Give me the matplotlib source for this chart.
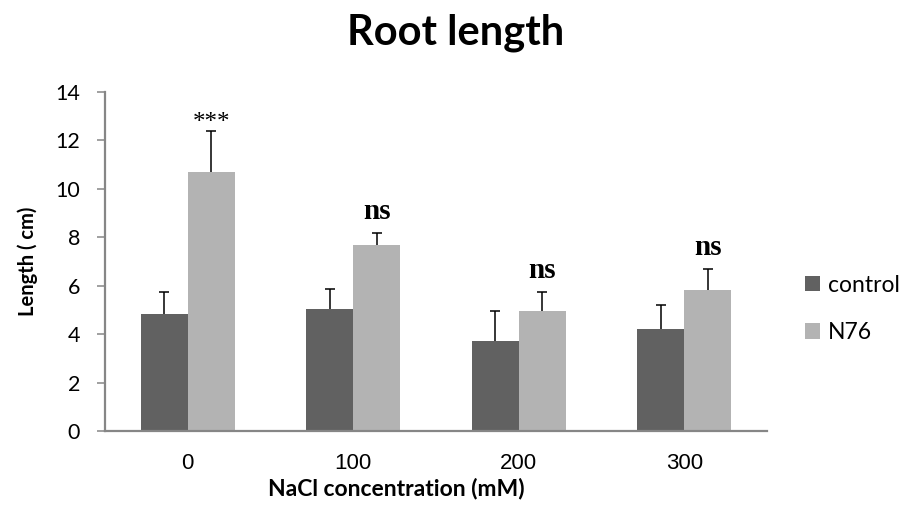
import numpy as np
import matplotlib.pyplot as plt

# root length per NaCl concentration, mean and upper error
conc = ['0', '100', '200', '300']
control = [4.85, 5.02, 3.70, 4.20]
control_err = [0.88, 0.84, 1.24, 1.02]
n76 = [10.68, 7.68, 4.96, 5.84]
n76_err = [1.70, 0.48, 0.76, 0.85]
signif = ['***', 'ns', 'ns', 'ns']

dark = '#616161'
light = '#b3b3b3'
axis_gray = '#868686'
sans = 'Lato'

W, H = 907, 521
fig = plt.figure(figsize=(W / 100, H / 100), dpi=100)
ax = fig.add_axes([105 / W, 1 - 431 / H, 662 / W, 339 / H])

x = np.arange(len(conc))
w = 0.283
ax.bar(x - w / 2, control, w, color=dark, label='control')
ax.bar(x + w / 2, n76, w, color=light, label='N76')

# upper error bars only
for xs, ys, es in [(x - w / 2, control, control_err), (x + w / 2, n76, n76_err)]:
    _, caps, _ = ax.errorbar(xs, ys, yerr=[np.zeros(len(ys)), es], fmt='none',
                             ecolor='black', elinewidth=1.1, capsize=3.6,
                             capthick=1.1)
    caps[0].set_visible(False)

for i, s in enumerate(signif):
    top = n76[i] + n76_err[i]
    if s == '***':
        ax.text(x[i] + w / 2, top + 0.1, s, ha='center', va='baseline',
                family='Liberation Serif', fontsize=18)
    else:
        ax.text(x[i] + w / 2, top + 0.58, s, ha='center', va='baseline',
                family='Liberation Serif', fontsize=21, fontweight='bold')

ax.set_xlim(-0.5, 3.5)
ax.set_ylim(0, 14)
ax.set_yticks(range(0, 15, 2))
ax.set_xticks(x)
ax.set_xticklabels(conc)
ax.tick_params(axis='y', direction='out', length=6, width=1.1,
               color=axis_gray, labelsize=15.5, pad=12,
               labelfontfamily=sans)
ax.tick_params(axis='x', length=0, pad=16, labelsize=16,
               labelfontfamily='Liberation Sans')

for side in ['top', 'right']:
    ax.spines[side].set_visible(False)
for side in ['left', 'bottom']:
    ax.spines[side].set_color(axis_gray)
    ax.spines[side].set_linewidth(1.6)

ax.set_ylabel('Length ( cm)', family=sans, fontweight='bold',
              fontsize=14.5, labelpad=12)
fig.text(396 / W, 1 - 495 / H, 'NaCl concentration (mM)', family=sans,
         fontweight='bold', fontsize=16.5, ha='center', va='baseline')
fig.text(456 / W, 1 - 45 / H, 'Root length', family=sans,
         fontweight='bold', fontsize=30, ha='center', va='baseline')

ax.legend(loc='center left', bbox_to_anchor=(1.057, 0.36), frameon=False,
          prop={'family': sans, 'size': 16.5}, handlelength=0.65,
          handleheight=0.65, labelspacing=1.15, handletextpad=0.35,
          borderpad=0, borderaxespad=0)

fig.savefig('out.png', dpi=100)
